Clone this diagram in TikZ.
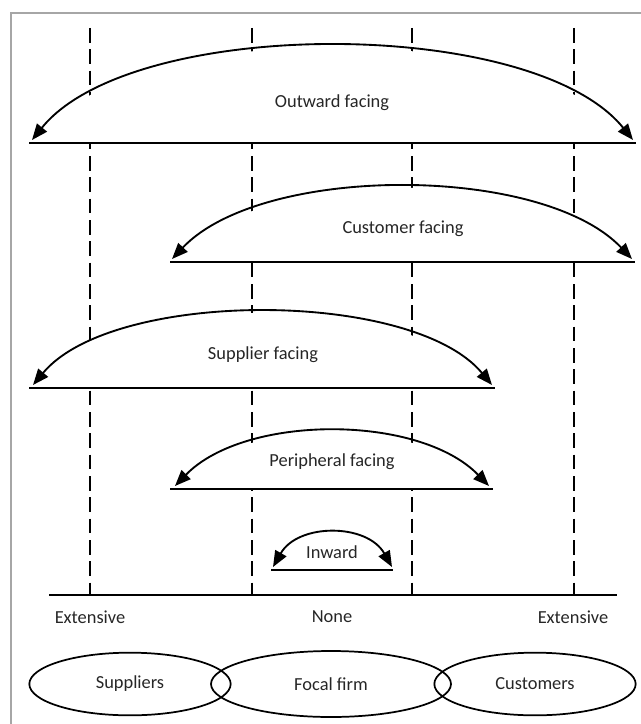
\documentclass[tikz,border=0pt]{standalone}
\usepackage{fontspec}
\setmainfont{Carlito}
\usetikzlibrary{shapes.geometric, arrows.meta}

\tikzset{
	span/.style={line width=1.4pt, {Triangle[length=12pt,width=9.5pt]}-{Triangle[length=12pt,width=9.5pt]}},
	base/.style={line width=1.6pt},
	guide/.style={line width=1.4pt, dash pattern=on 11pt off 5pt},
	cover/.style={fill=white},
}

\begin{document}
\begin{tikzpicture}[x=0.75pt, y=-0.75pt, font=\fontsize{13.8pt}{16pt}\selectfont, text=black!85]
	\useasboundingbox (0,0) rectangle (641,724);
	\draw[gray!70, line width=1.2pt] (11,724) -- (11,13) -- (641,13);

	% dashed guides
	\draw[guide] (90,28) -- (90,595);
	\draw[guide] (252,28) -- (252,595);
	\draw[guide] (412,28) -- (412,595);
	\draw[guide] (574,28) -- (574,595);

	% arc ends
	\coordinate (outL) at (32,140);
	\coordinate (outR) at (633,140);
	\coordinate (custL) at (172,259);
	\coordinate (custR) at (632,259);
	\coordinate (suppL) at (33,385);
	\coordinate (suppR) at (492,385);
	\coordinate (periL) at (175,486);
	\coordinate (periR) at (489,486);
	\coordinate (inL) at (273,567);
	\coordinate (inR) at (392,567);

	% base lines
	\coordinate (outBL) at (29,143);
	\coordinate (outBR) at (636,143);
	\coordinate (custBL) at (170,262);
	\coordinate (custBR) at (635,262);
	\coordinate (suppBL) at (29,388);
	\coordinate (suppBR) at (495,388);
	\coordinate (periBL) at (170,489);
	\coordinate (periBR) at (493,489);
	\coordinate (inBL) at (271,570);
	\coordinate (inBR) at (393,570);
	\coordinate (axisL) at (49,595);
	\coordinate (axisR) at (617,595);

	% blank out the guides under each arc
	\fill[cover] (outBL) -- (outL) .. controls +(100,-124) and +(-100,-124) .. (outR) -- (outBR) -- cycle;
	\fill[cover] (custBL) -- (custL) .. controls +(90,-95) and +(-90,-95) .. (custR) -- (custBR) -- cycle;
	\fill[cover] (suppBL) -- (suppL) .. controls +(80,-96) and +(-80,-96) .. (suppR) -- (suppBR) -- cycle;
	\fill[cover] (periBL) -- (periL) .. controls +(70,-72) and +(-70,-72) .. (periR) -- (periBR) -- cycle;

	\begin{scope}
		\draw[span] (outL) .. controls +(100,-124) and +(-100,-124) .. (outR);
		\draw[span] (custL) .. controls +(90,-95) and +(-90,-95) .. (custR);
		\draw[span] (suppL) .. controls +(80,-96) and +(-80,-96) .. (suppR);
		\draw[span] (periL) .. controls +(70,-72) and +(-70,-72) .. (periR);
		\draw[span] (inL) .. controls +(25,-44) and +(-25,-44) .. (inR);

		\draw[base] (outBL) -- (outBR);
		\draw[base] (custBL) -- (custBR);
		\draw[base] (suppBL) -- (suppBR);
		\draw[base] (periBL) -- (periBR);
		\draw[base] (inBL) -- (inBR);
		\draw[base] (axisL) -- (axisR);
	\end{scope}

	\begin{scope}[every node/.style={inner sep=0pt}]
		\node (outward) at (332,103) {Outward facing};
		\node (customer) at (403,229) {Customer facing};
		\node (supplier) at (263,355) {Supplier facing};
		\node (peripheral) at (332,462) {Peripheral facing};
		\node (inward) at (332,552) {Inward};

		\node (ext1) at (90,617) {Extensive};
		\node (none) at (332,617) {None};
		\node (ext2) at (573,617) {Extensive};
	\end{scope}

	\begin{scope}[every node/.style={ellipse,draw,line width=1.3pt,inner sep=0pt}]
		\node[minimum width=151pt, minimum height=47pt] (suppliers) at (130,684) {Suppliers};
		\node[minimum width=180pt, minimum height=49.5pt] (focal) at (331,684) {Focal firm};
		\node[minimum width=151pt, minimum height=47pt] (customers) at (535,684) {Customers};
	\end{scope}
\end{tikzpicture}
\end{document}
